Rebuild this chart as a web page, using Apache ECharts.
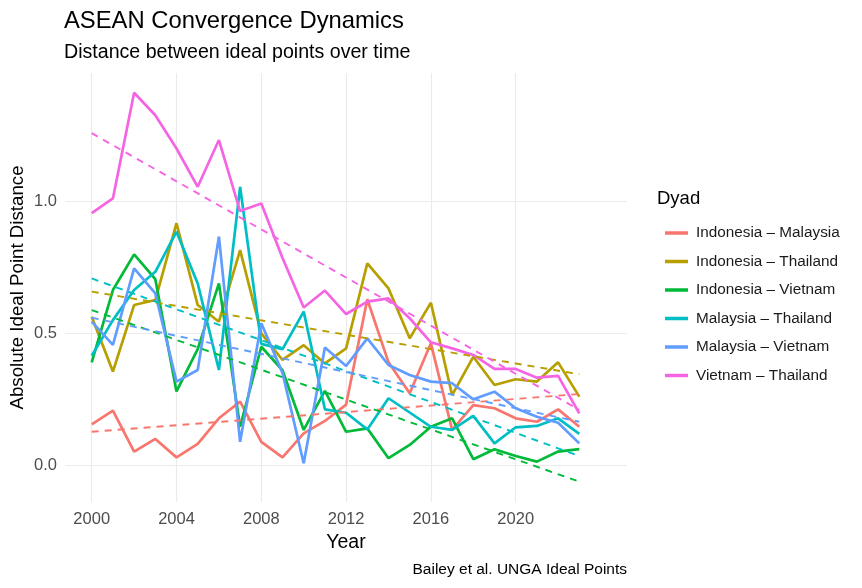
<!DOCTYPE html>
<html>
<head>
<meta charset="utf-8">
<script src="https://cdn.jsdelivr.net/npm/echarts@6/dist/echarts.min.js"></script>
<style>
html,body{margin:0;padding:0;background:#fff;}
#chart{width:862px;height:588px;}
</style>
</head>
<body>
<div id="chart"></div>
<script>
// ---- data ----
const years = [2000,2001,2002,2003,2004,2005,2006,2007,2008,2009,2010,2011,2012,2013,2014,2015,2016,2017,2018,2019,2020,2021,2022,2023];
const dyads = ["Indonesia – Malaysia","Indonesia – Thailand","Indonesia – Vietnam","Malaysia – Thailand","Malaysia – Vietnam","Vietnam – Thailand"];
const indonesiaMalaysia = [0.155,0.207,0.052,0.100,0.030,0.081,0.178,0.241,0.089,0.030,0.121,0.168,0.230,0.629,0.390,0.273,0.462,0.134,0.228,0.216,0.178,0.165,0.212,0.146];
const indonesiaThailand = [0.563,0.355,0.607,0.626,0.917,0.607,0.544,0.815,0.500,0.399,0.455,0.386,0.443,0.765,0.670,0.481,0.616,0.266,0.411,0.304,0.326,0.317,0.390,0.260];
const indonesiaVietnam  = [0.390,0.664,0.799,0.705,0.280,0.440,0.689,0.146,0.449,0.360,0.134,0.282,0.127,0.140,0.027,0.077,0.146,0.178,0.023,0.061,0.035,0.014,0.052,0.061];
const malaysiaThailand  = [0.415,0.550,0.664,0.733,0.885,0.689,0.361,1.055,0.460,0.440,0.582,0.212,0.199,0.136,0.254,0.200,0.146,0.134,0.187,0.083,0.144,0.149,0.178,0.119];
const malaysiaVietnam   = [0.544,0.456,0.746,0.651,0.317,0.361,0.866,0.089,0.538,0.350,0.008,0.446,0.376,0.481,0.380,0.342,0.317,0.311,0.250,0.279,0.216,0.184,0.161,0.083];
const vietnamThailand   = [0.955,1.011,1.411,1.326,1.200,1.055,1.232,0.963,0.992,0.785,0.598,0.662,0.573,0.620,0.632,0.557,0.466,0.443,0.418,0.365,0.365,0.332,0.339,0.197];
// linear trend lines (value at first year, value at last year)
const trendYears = [2000, 2023];
const trendIndonesiaMalaysia = [0.127, 0.270];
const trendIndonesiaThailand = [0.658, 0.345];
const trendIndonesiaVietnam  = [0.588, -0.062];
const trendMalaysiaThailand  = [0.708, 0.035];
const trendMalaysiaVietnam   = [0.559, 0.165];
const trendVietnamThailand   = [1.258, 0.210];
const xTicks = [2000,2004,2008,2012,2016,2020];
const yTicks = [0, 0.5, 1.0];

const colors = ["#F8766D","#B79F00","#00BA38","#00BFC4","#619CFF","#F564E3"];
const seriesValues = [indonesiaMalaysia,indonesiaThailand,indonesiaVietnam,malaysiaThailand,malaysiaVietnam,vietnamThailand];
const trendValues = [trendIndonesiaMalaysia,trendIndonesiaThailand,trendIndonesiaVietnam,trendMalaysiaThailand,trendMalaysiaVietnam,trendVietnamThailand];

const series = [];
dyads.forEach((name,i)=>{
  series.push({
    name: name, type:'line', symbol:'none', silent:true,
    data: years.map((y,k)=>[y, seriesValues[i][k]]),
    lineStyle:{color:colors[i], width:2.7},
    itemStyle:{color:colors[i]},
    z: 2
  });
});
dyads.forEach((name,i)=>{
  series.push({
    name: name + ' trend', type:'line', symbol:'none', silent:true,
    data: trendYears.map((y,k)=>[y, trendValues[i][k]]),
    lineStyle:{color:colors[i], width:1.9, type:[7,6]},
    itemStyle:{color:colors[i]},
    z: 3
  });
});

const chart = echarts.init(document.getElementById('chart'), null, {renderer:'canvas'});
chart.setOption({
  animation:false,
  backgroundColor:'#ffffff',
  textStyle:{fontFamily:'Liberation Sans, Arial, sans-serif'},
  title:[
    {text:'ASEAN Convergence Dynamics', left:64, top:9, padding:0,
     textStyle:{fontSize:23.8, fontWeight:'normal', color:'#000'}},
    {text:'Distance between ideal points over time', left:64, top:43, padding:0,
     textStyle:{fontSize:19.6, fontWeight:'normal', color:'#000'}},
    {text:'Dyad', left:657, top:189, padding:0,
     textStyle:{fontSize:18.5, fontWeight:'normal', color:'#000'}},
    {text:'Bailey et al. UNGA Ideal Points', right:235, top:562, padding:0,
     textStyle:{fontSize:15.5, fontWeight:'normal', color:'#000'}}
  ],
  legend:{
    data: dyads, orient:'vertical', left:660, top:219,
    icon:'rect', itemWidth:23, itemHeight:3.5, itemGap:10.5,
    textStyle:{fontSize:15.3, color:'#1A1A1A', lineHeight:18, padding:[0,0,0,3]},
    selectedMode:false
  },
  grid:{left:65, right:235, top:73, bottom:86, containLabel:false, outerBoundsMode:'none'},
  xAxis:{
    type:'value', min:1998.74, max:2025.25,
    name:'Year', nameLocation:'middle', nameGap:31, nameMoveOverlap:false,
    nameTextStyle:{fontSize:19.5, color:'#000'},
    axisLine:{show:false},
    axisTick:{show:false, customValues:xTicks},
    axisLabel:{customValues:xTicks, color:'#4D4D4D', fontSize:16.5, margin:9, formatter:v=>String(v)},
    splitLine:{show:true, lineStyle:{color:'#EBEBEB', width:1.2}}
  },
  yAxis:{
    type:'value', min:-0.139, max:1.486,
    name:'Absolute Ideal Point Distance', nameLocation:'middle', nameGap:38, nameMoveOverlap:false,
    nameTextStyle:{fontSize:18.7, color:'#000'},
    axisLine:{show:false},
    axisTick:{show:false, customValues:yTicks},
    axisLabel:{customValues:yTicks, color:'#4D4D4D', fontSize:16.5, margin:8, formatter:v=>v.toFixed(1)},
    splitLine:{show:true, lineStyle:{color:'#EBEBEB', width:1.2}}
  },
  series: series
});
</script>
</body>
</html>
